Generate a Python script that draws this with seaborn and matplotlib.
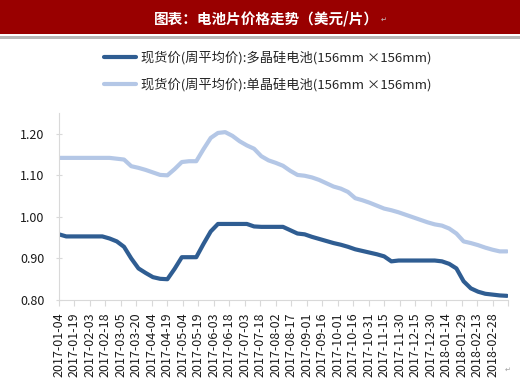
import pandas as pd
import numpy as np
import matplotlib
matplotlib.use('Agg')
import matplotlib.pyplot as plt
from matplotlib.patches import Rectangle
import seaborn as sns

# weekly average spot prices (USD per cell)
dates = pd.date_range('2017-01-04', periods=63, freq='7D')

poly_price = [0.958, 0.953, 0.953, 0.953, 0.953, 0.953, 0.953, 0.948, 0.941, 0.928,
              0.900, 0.876, 0.865, 0.855, 0.851, 0.850, 0.875, 0.903, 0.903, 0.903,
              0.935, 0.965, 0.983, 0.983, 0.983, 0.983, 0.983, 0.977, 0.976, 0.976,
              0.976, 0.976, 0.968, 0.960, 0.958, 0.952, 0.947, 0.942, 0.937, 0.933,
              0.928, 0.922, 0.918, 0.914, 0.910, 0.905, 0.893, 0.895, 0.895, 0.895,
              0.895, 0.895, 0.895, 0.893, 0.887, 0.876, 0.845, 0.828, 0.820, 0.815,
              0.813, 0.811, 0.810]

mono_price = [1.142, 1.142, 1.142, 1.142, 1.142, 1.142, 1.142, 1.142, 1.140, 1.138,
              1.122, 1.118, 1.113, 1.107, 1.101, 1.100, 1.115, 1.132, 1.134, 1.134,
              1.163, 1.190, 1.202, 1.204, 1.195, 1.182, 1.172, 1.164, 1.146, 1.136,
              1.130, 1.123, 1.111, 1.101, 1.099, 1.095, 1.089, 1.081, 1.073, 1.068,
              1.060, 1.045, 1.040, 1.034, 1.027, 1.020, 1.016, 1.011, 1.005, 0.999,
              0.993, 0.987, 0.982, 0.979, 0.972, 0.960, 0.941, 0.937, 0.932, 0.926,
              0.921, 0.917, 0.917]

series_names = ['现货价(周平均价):多晶硅电池(156mm ×156mm)',
                '现货价(周平均价):单晶硅电池(156mm ×156mm)']
colors = ['#2F5D92', '#B4C7E6']

title = '图表：电池片价格走势（美元/片）'

df = pd.DataFrame({'date': list(dates) * 2,
                   'price': poly_price + mono_price,
                   'series': [series_names[0]] * len(dates) + [series_names[1]] * len(dates)})

sns.set_style('white')
plt.rcParams['font.family'] = ['Noto Sans CJK SC', 'DejaVu Sans']

fig = plt.figure(figsize=(5.2, 3.78), dpi=100)
ax = fig.add_axes([59 / 520, 1 - 300 / 378, (508 - 59) / 520, (300 - 113) / 378])

sns.lineplot(data=df, x='date', y='price', hue='series', hue_order=series_names,
             palette=colors, linewidth=3.0, ax=ax)

# title banner
fig.patches.append(Rectangle((0, 1 - 34 / 378), 1, 34 / 378, transform=fig.transFigure,
                             facecolor='#990000', edgecolor='none', zorder=0))
fig.patches.append(Rectangle((0, 1 - 39 / 378), 1, 2.5 / 378, transform=fig.transFigure,
                             facecolor='#B8B8B8', edgecolor='none', zorder=0))
fig.text(266 / 520, 1 - 18 / 378, title, color='white', fontsize=10.5, fontweight='bold',
         ha='center', va='center')
fig.text(384 / 520, 1 - 20 / 378, '↵', color='#C8C8C8', fontsize=5, ha='center', va='center')
fig.text(508 / 520, 1 - 370 / 378, '↵', color='#A0A0A0', fontsize=5, ha='center', va='center')

# legend
handles, labels = ax.get_legend_handles_labels()
ax.get_legend().remove()
fig.legend(handles, labels, loc='upper left', bbox_to_anchor=(104 / 520, 1 - 51 / 378),
           frameon=False, fontsize=9.5, handlelength=2.4, handletextpad=0.4,
           labelspacing=1.0, borderpad=0, borderaxespad=0)

# axes
ax.set_ylim(0.80, 1.25)
ax.set_yticks([0.80, 0.90, 1.00, 1.10, 1.20])
ax.set_yticklabels(['0.80', '0.90', '1.00', '1.10', '1.20'])

tick_dates = pd.date_range('2017-01-04', periods=30, freq='15D')
ax.set_xlim(tick_dates[0], tick_dates[-1])
ax.set_xticks(tick_dates)
ax.set_xticklabels([d.strftime('%Y-%m-%d') for d in tick_dates[:-1]] + [''], rotation=90)

ax.set_xlabel('')
ax.set_ylabel('')
for side in ['top', 'right']:
    ax.spines[side].set_visible(False)
for side in ['left', 'bottom']:
    ax.spines[side].set_color('#D9D9D9')
    ax.spines[side].set_linewidth(0.8)
ax.tick_params(axis='x', direction='out', length=4, width=0.8, color='#D9D9D9',
               labelsize=9, labelcolor='#1A1A1A', pad=5, bottom=True)
ax.tick_params(axis='y', direction='inout', length=5, width=0.8, color='#D9D9D9',
               labelsize=9, labelcolor='#1A1A1A', pad=8, left=True)

fig.savefig('out.png', dpi=100)
